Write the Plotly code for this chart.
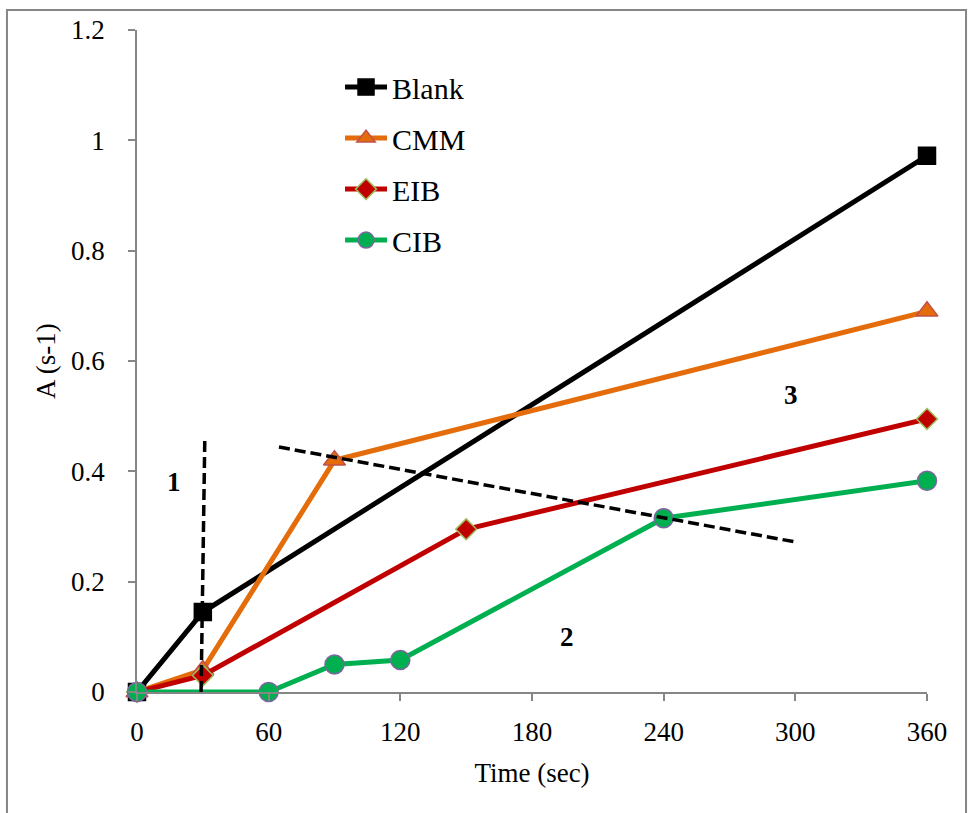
import plotly.graph_objects as go

# Time axis (sec) and A (s-1) for each sample
blank_t = [0, 30, 360]
blank_a = [0, 0.145, 0.972]

cmm_t = [0, 30, 90, 360]
cmm_a = [0, 0.04, 0.42, 0.69]

eib_t = [0, 30, 150, 360]
eib_a = [0, 0.03, 0.295, 0.495]

cib_t = [0, 60, 90, 120, 240, 360]
cib_a = [0, 0, 0.05, 0.058, 0.315, 0.383]

# dashed guide lines separating regions 1, 2, 3
guide_v_t = [29.2, 30.9]
guide_v_a = [0, 0.46]
guide_d_t = [64.7, 300]
guide_d_a = [0.444, 0.272]

region_labels = ["1", "2", "3"]
region_t = [17, 196, 298]
region_a = [0.38, 0.10, 0.538]

x_ticks = [0, 60, 120, 180, 240, 300, 360]
y_ticks = [0, 0.2, 0.4, 0.6, 0.8, 1.0, 1.2]
y_tick_text = ["0", "0.2", "0.4", "0.6", "0.8", "1", "1.2"]

FONT = "Liberation Serif"
GREY = "#868686"

fig = go.Figure()

series = [
    ("Blank", blank_t, blank_a, "#000000", "square", 17, "#000000", "#000000"),
    ("CMM", cmm_t, cmm_a, "#E46C0A", "triangle-up", 19, "#E46C0A", "#C0504D"),
    ("EIB", eib_t, eib_a, "#C00000", "diamond", 16, "#C00000", "#9BBB59"),
    ("CIB", cib_t, cib_a, "#00B050", "circle", 19, "#00B050", "#8064A2"),
]
for name, xs, ys, lc, sym, sz, fc, ec in series:
    fig.add_trace(go.Scatter(
        x=xs, y=ys, name=name, mode="lines+markers", legendgroup=name,
        cliponaxis=False,
        line=dict(color=lc, width=5),
        marker=dict(symbol=sym, size=sz, color=fc, line=dict(color=ec, width=1.5)),
    ))

for gx, gy in [(guide_v_t, guide_v_a), (guide_d_t, guide_d_a)]:
    fig.add_trace(go.Scatter(
        x=gx, y=gy, mode="lines", showlegend=False, hoverinfo="skip",
        cliponaxis=False,
        line=dict(color="#000000", width=3.5, dash="11px,5px"),
    ))

for lbl, tx, ay in zip(region_labels, region_t, region_a):
    fig.add_annotation(x=tx, y=ay, text=f"<b>{lbl}</b>", showarrow=False,
                       font=dict(family=FONT, size=27, color="#000000"))

# outer chart border
fig.add_shape(type="rect", xref="paper", yref="paper",
              x0=-0.1646, x1=1.0494, y0=-0.2, y1=1.0302,
              line=dict(color=GREY, width=2), layer="below")

tick_font = dict(family=FONT, size=27, color="#000000")

fig.update_layout(
    width=969, height=813,
    margin=dict(l=137, r=42, t=30, b=121),
    paper_bgcolor="white", plot_bgcolor="white",
    font=dict(family=FONT, size=27, color="#000000"),
    showlegend=True,
    legend=dict(x=0.257, y=0.953, xanchor="left", yanchor="top",
                bgcolor="rgba(0,0,0,0)", font=dict(family=FONT, size=30),
                tracegroupgap=9, itemsizing="trace", itemwidth=42),
    xaxis=dict(
        range=[0, 360], tickvals=x_ticks, ticktext=[str(v) for v in x_ticks],
        showgrid=False, zeroline=False, showline=True, linecolor=GREY,
        linewidth=1.5, ticks="outside", tickcolor=GREY, ticklen=7, tickwidth=1.5,
        tickfont=tick_font, ticklabelstandoff=8,
        title=dict(text="Time (sec)", standoff=17, font=tick_font), fixedrange=True,
    ),
    yaxis=dict(
        range=[0, 1.2], tickvals=y_ticks, ticktext=y_tick_text,
        showgrid=False, zeroline=False, showline=True, linecolor=GREY,
        linewidth=1.5, ticks="outside", tickcolor=GREY, ticklen=7, tickwidth=1.5,
        tickfont=tick_font, ticklabelstandoff=18,
        title=dict(text="A (s-1)", standoff=8, font=tick_font), fixedrange=True,
    ),
)

fig.write_html("out.html")
